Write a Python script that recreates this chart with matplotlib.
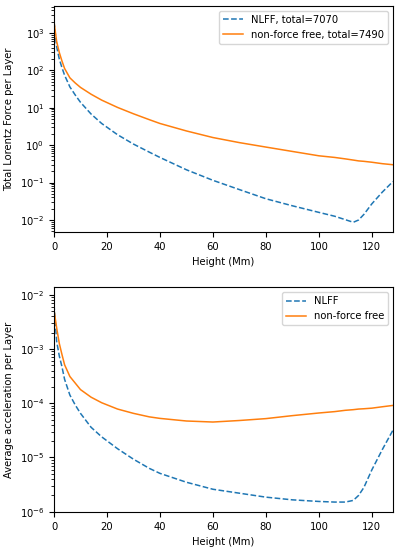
import matplotlib
matplotlib.use("Agg")
import matplotlib.pyplot as plt

plt.rcParams['font.size'] = 7.2

height = [0, 1, 2, 3, 4, 6, 8, 10, 14, 18, 24, 30, 36, 40, 50, 60, 70, 80,
          90, 100, 106, 110, 113, 115, 117, 120, 124, 128]

# total Lorentz force per layer
force_nlff = [2000, 430, 200, 118, 74, 36, 22, 14, 6.8, 3.8, 1.9, 1.07, 0.65,
              0.47, 0.22, 0.115, 0.065, 0.037, 0.024, 0.016, 0.0126, 0.0102,
              0.0087, 0.0100, 0.0141, 0.027, 0.056, 0.107]
force_nonff = [2000, 590, 300, 178, 112, 63, 46, 35, 23, 16, 10.2, 6.9, 4.8,
               3.8, 2.4, 1.6, 1.17, 0.89, 0.68, 0.52, 0.47, 0.43, 0.40, 0.38,
               0.37, 0.35, 0.32, 0.30]

# average acceleration per layer
acc_nlff = [6.6e-3, 1.38e-3, 7.4e-4, 4.7e-4, 2.75e-4, 1.41e-4, 9.3e-5, 6.5e-5,
            3.6e-5, 2.4e-5, 1.45e-5, 9.3e-6, 6.3e-6, 5.1e-6, 3.5e-6, 2.6e-6,
            2.2e-6, 1.86e-6, 1.66e-6, 1.55e-6, 1.51e-6, 1.51e-6, 1.62e-6,
            2.0e-6, 2.8e-6, 5.9e-6, 1.41e-5, 3.2e-5]
acc_nonff = [5.2e-3, 2.45e-3, 1.26e-3, 7.9e-4, 5.1e-4, 3.1e-4, 2.35e-4, 1.78e-4,
             1.29e-4, 1.02e-4, 7.8e-5, 6.5e-5, 5.6e-5, 5.25e-5, 4.7e-5, 4.5e-5,
             4.8e-5, 5.2e-5, 5.9e-5, 6.6e-5, 7.0e-5, 7.4e-5, 7.6e-5, 7.8e-5,
             7.9e-5, 8.1e-5, 8.6e-5, 9.1e-5]

fig = plt.figure(figsize=(4, 5.53), dpi=100)
ax1 = fig.add_axes([0.135, 0.5805, 0.8475, 0.4087])
ax2 = fig.add_axes([0.135, 0.0741, 0.8475, 0.4069])

ax1.semilogy(height, force_nlff, '--', color='tab:blue', lw=1.1, label='NLFF, total=7070')
ax1.semilogy(height, force_nonff, '-', color='tab:orange', lw=1.1, label='non-force free, total=7490')
ax1.set_xlim(0, 128)
ax1.set_ylim(10**-2.32, 10**3.72)
ax1.set_xlabel('Height (Mm)')
ax1.set_ylabel('Total Lorentz Force per Layer')
ax1.legend(loc='upper right')

ax2.semilogy(height, acc_nlff, '--', color='tab:blue', lw=1.1, label='NLFF')
ax2.semilogy(height, acc_nonff, '-', color='tab:orange', lw=1.1, label='non-force free')
ax2.set_xlim(0, 128)
ax2.set_ylim(0.99e-6, 10**-1.86)
ax2.set_xlabel('Height (Mm)')
ax2.set_ylabel('Average acceleration per Layer')
ax2.legend(loc='upper right')

fig.savefig('out.png', dpi=100)
